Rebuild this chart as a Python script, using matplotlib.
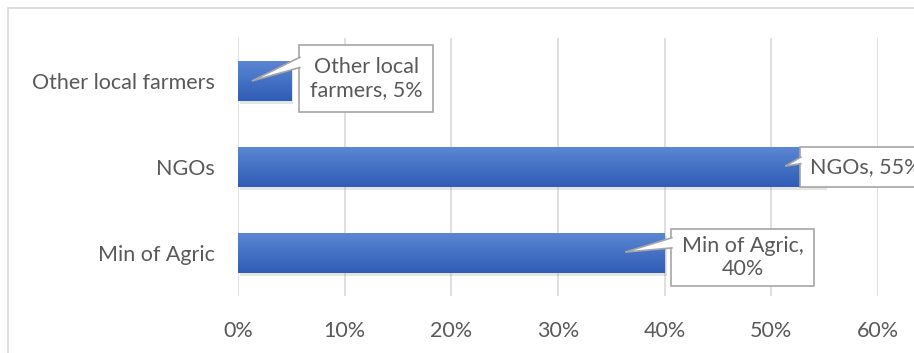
import matplotlib.pyplot as plt
import matplotlib.patheffects as pe
from matplotlib.patches import Polygon, Rectangle
from matplotlib.colors import LinearSegmentedColormap
import numpy as np

plt.rcParams['font.family'] = ['Lato', 'DejaVu Sans']

# sources of information, bottom to top
sources = ["Min of Agric", "NGOs", "Other local farmers"]
shares = [40, 55, 5]
labels = ["Min of Agric,\n40%", "NGOs, 55%", "Other local\nfarmers, 5%"]
xticks = [0, 10, 20, 30, 40, 50, 60]

fig = plt.figure(figsize=(9.14, 3.53), dpi=100)
ax = fig.add_axes([0.2604, 0.1615, 0.7002, 0.7309])

# outer chart frame
fig.patches.append(Rectangle((8 / 914, -0.1), 1.2, 1 - 8 / 353 + 0.1,
                             transform=fig.transFigure, fill=False,
                             edgecolor="#d9d9d9", linewidth=1.2, zorder=0))

ypos = np.arange(len(sources))
bars = ax.barh(ypos, shares, height=0.47, color="#4472c4", zorder=3)

# vertical gradient fill on each bar plus a soft shadow
grad = np.linspace(0, 1, 100).reshape(-1, 1)
cmap = LinearSegmentedColormap.from_list("barblue", ["#5b87d2", "#2f5db6"])
for b in bars:
    b.set_path_effects([pe.SimplePatchShadow(offset=(1.5, -2), shadow_rgbFace="#9a9a9a", alpha=0.25),
                        pe.Normal()])
    x0, y0 = b.get_x(), b.get_y()
    w, h = b.get_width(), b.get_height()
    im = ax.imshow(grad, cmap=cmap, aspect="auto", extent=(x0, x0 + w, y0, y0 + h),
                   origin="upper", zorder=4)
    im.set_clip_path(b)

ax.set_xlim(0, 60)
ax.set_ylim(-0.5, 2.5)
ax.set_xticks(xticks)
ax.set_xticklabels([f"{t}%" for t in xticks])
ax.set_yticks(ypos)
ax.set_yticklabels(sources)
ax.grid(axis="x", color="#d9d9d9", linewidth=1.2, zorder=0)
ax.set_axisbelow(True)
for s in ax.spines.values():
    s.set_visible(False)
ax.tick_params(axis="x", length=0, pad=18, labelsize=15.5, labelcolor="#595959")
ax.tick_params(axis="y", length=0, pad=17, labelsize=15.5, labelcolor="#595959")

# callout boxes: (x0, x1, y0, y1) box, tip offset into bar, base on box edge
callouts = [
    dict(box=(40.6, 54.0, -0.384, 0.279), tip=(-3.7, 0.01), base=(0.18, 0.06), text_x=47.3, ha="center"),
    dict(box=(52.7, 75.0, 0.767, 1.233), tip=(-3.7, 0.01), base=(0.12, 0.04), text_x=53.6, ha="left"),
    dict(box=(5.72, 18.28, 1.64, 2.419), tip=(-3.7, 0.0), base=(0.28, 0.16), text_x=12.0, ha="center"),
]
for i, c in enumerate(callouts):
    bx0, bx1, by0, by1 = c["box"]
    ax.add_patch(Rectangle((bx0, by0), bx1 - bx0, by1 - by0, facecolor="white",
                           edgecolor="#a6a6a6", linewidth=1.2, zorder=6, clip_on=False))
    tip = (shares[i] + c["tip"][0], ypos[i] + c["tip"][1])
    tri = Polygon([(bx0 + 0.15, ypos[i] + c["base"][0]), tip, (bx0 + 0.15, ypos[i] + c["base"][1])],
                  closed=False, facecolor="white", edgecolor="#a6a6a6", linewidth=1.2,
                  zorder=7, clip_on=False)
    ax.add_patch(tri)
    ax.text(c["text_x"], (by0 + by1) / 2, labels[i], ha=c["ha"], va="center", fontsize=15.5,
            color="#595959", zorder=8, linespacing=1.2, clip_on=False)

fig.savefig("out.png", dpi=100)
